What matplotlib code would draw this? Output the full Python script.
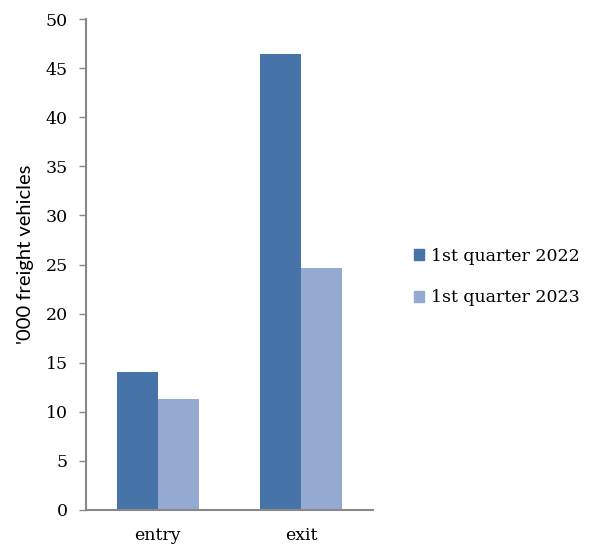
import numpy as np
import matplotlib.pyplot as plt
from matplotlib.patches import Patch

categories = ["entry", "exit"]
series_names = ["1st quarter 2022", "1st quarter 2023"]
q1_2022 = [14.1, 46.4]
q1_2023 = [11.3, 24.6]
colors = ["#4673A8", "#95AAD1"]

serif = ["DejaVu Serif"]
axis_col = "#888888"

fig = plt.figure(figsize=(5.98, 5.53), dpi=100)
ax = fig.add_axes([86/598, 43/553, 287/598, 491/553])

x = np.arange(len(categories))
w = 0.285
ax.bar(x - w/2, q1_2022, w, color=colors[0], edgecolor="none")
ax.bar(x + w/2, q1_2023, w, color=colors[1], edgecolor="none")

ax.set_xlim(-0.5, len(categories) - 0.5)
ax.set_ylim(0, 50)
ax.set_yticks(np.arange(0, 51, 5))
ax.set_xticks(x)
ax.set_xticklabels(categories, fontsize=12.5, family=serif)
for lab in ax.get_yticklabels():
    lab.set_fontsize(12.5); lab.set_family(serif)

ax.tick_params(axis="x", length=0, pad=12)
ax.tick_params(axis="y", length=5, width=1, color=axis_col, pad=8)
for s in ["top", "right"]:
    ax.spines[s].set_visible(False)
for s in ["left", "bottom"]:
    ax.spines[s].set_color(axis_col)
    ax.spines[s].set_linewidth(1.5)

ax.set_ylabel("'000 freight vehicles", fontsize=14.5, family="Lato")
ax.yaxis.set_label_coords(-0.18, 0.52)

handles = [Patch(color=c) for c in colors]
fig.legend(handles, series_names, loc="center left", bbox_to_anchor=(398/598, 1 - 277/553),
           frameon=False, prop={"family": serif, "size": 12.5},
           handlelength=0.6, handleheight=0.6, handletextpad=0.4, labelspacing=1.4)

fig.savefig("out.png", dpi=100)
